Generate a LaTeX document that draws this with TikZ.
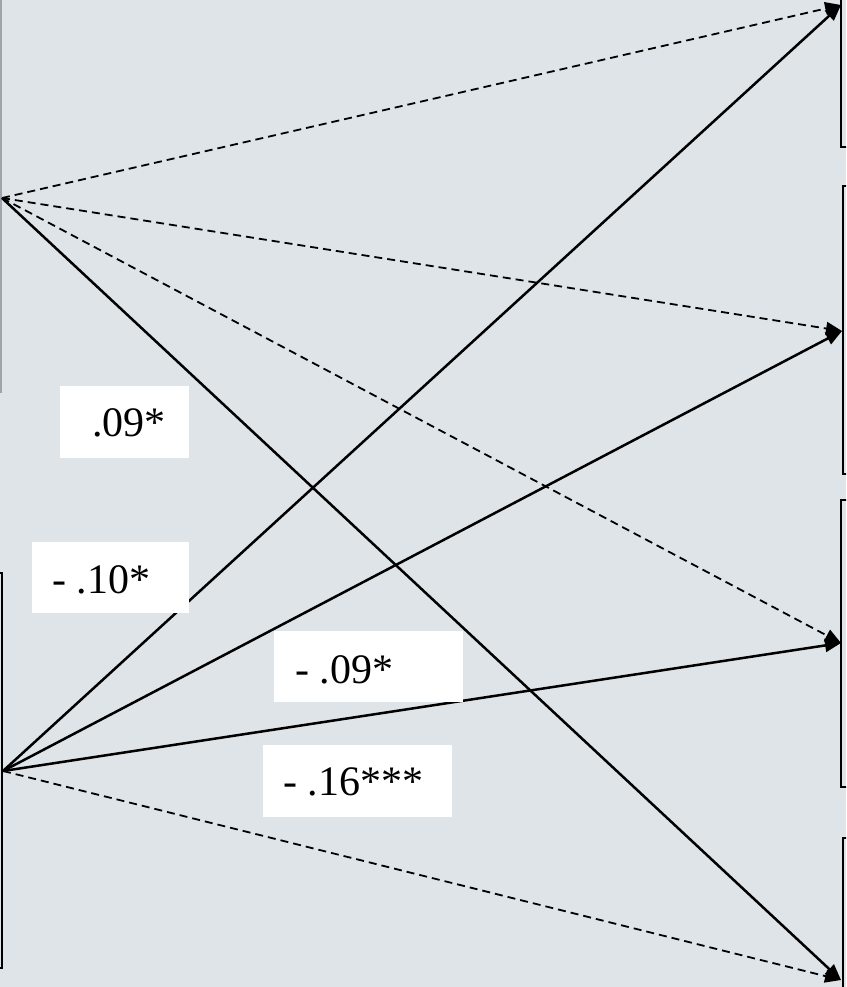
\documentclass[tikz,border=0pt]{standalone}
\usepackage{fontspec}
\setmainfont{Liberation Serif}
\usetikzlibrary{arrows.meta}
\definecolor{bg}{RGB}{223,228,232}
\definecolor{edgegray}{RGB}{160,164,168}
\tikzset{
  path/.style={line width=2.5pt, -{Triangle[length=16pt,width=13pt]}},
  dpath/.style={line width=1.8pt, dash pattern=on 8pt off 5pt, -{Triangle[length=16pt,width=13pt]}},
  box/.style={line width=2.6pt, draw=black},
  lab/.style={anchor=base west, inner sep=0pt, font=\fontsize{42}{46}\selectfont},
  labbox/.style={fill=white, draw=none}
}
\begin{document}
\begin{tikzpicture}[x=1pt,y=-1pt]
\useasboundingbox (0,0) rectangle (846,987);
\clip (0,0) rectangle (846,987);
\fill[bg] (0,0) rectangle (846,987);
% left boxes (cut off)
\draw[line width=1.8pt, edgegray] (-40,-20) rectangle (1,392);
\draw[box] (-40,573) rectangle (2,968);
% right boxes (cut off)
\draw[box] (841,-20) rectangle (900,147);
\draw[box] (843,186) rectangle (900,474);
\draw[box] (841,500) rectangle (900,787);
\draw[box] (843,838) rectangle (900,1020);
% endpoints
\coordinate (A) at (2,198);
\coordinate (B) at (3,771);
\coordinate (T1) at (841,5);
\coordinate (T2) at (842,331);
\coordinate (T3) at (841,643);
\coordinate (T4) at (841,980);
% connectors
\draw[dpath] (A) -- (T1);
\draw[dpath] (A) -- (T2);
\draw[dpath] (A) -- (T3);
\draw[path] (A) -- (T4);
\draw[path] (B) -- (T1);
\draw[path] (B) -- (T2);
\draw[path] (B) -- (T3);
\draw[dpath] (B) -- (T4);
% labels
\path[labbox] (60,386) rectangle (189,458);
\node[lab] (l1) at (92,436) {.09*};
\path[labbox] (32,542) rectangle (189,613);
\node[lab] (l2) at (52,593) {- .10*};
\path[labbox] (274,631) rectangle (463,702);
\node[lab] (l3) at (295,683) {- .09*};
\path[labbox] (263,745) rectangle (452,817);
\node[lab] (l4) at (283,795) {- .16***};
\end{tikzpicture}
\end{document}
